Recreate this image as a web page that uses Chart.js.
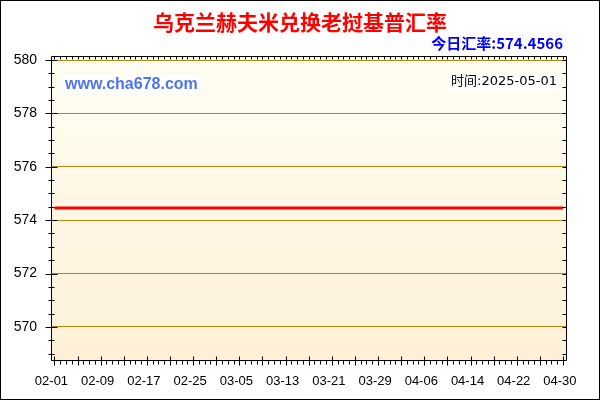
<!DOCTYPE html>
<html>
<head>
<meta charset="utf-8">
<script src="https://cdn.jsdelivr.net/npm/chart.js@4/dist/chart.umd.min.js"></script>
<style>
  html, body { margin: 0; padding: 0; background: #fff; }
  canvas { display: block; }
</style>
</head>
<body>
<canvas id="rateChart" width="600" height="400"></canvas>
<script>
const title = '乌克兰赫夫米兑换老挝基普汇率';
const todayRate = '574.4566';
const dateText = '2025-05-01';

const dates = [
  '02-01','02-02','02-03','02-04','02-05','02-06','02-07','02-08','02-09','02-10',
  '02-11','02-12','02-13','02-14','02-15','02-16','02-17','02-18','02-19','02-20',
  '02-21','02-22','02-23','02-24','02-25','02-26','02-27','02-28',
  '03-01','03-02','03-03','03-04','03-05','03-06','03-07','03-08','03-09','03-10',
  '03-11','03-12','03-13','03-14','03-15','03-16','03-17','03-18','03-19','03-20',
  '03-21','03-22','03-23','03-24','03-25','03-26','03-27','03-28','03-29','03-30','03-31',
  '04-01','04-02','04-03','04-04','04-05','04-06','04-07','04-08','04-09','04-10',
  '04-11','04-12','04-13','04-14','04-15','04-16','04-17','04-18','04-19','04-20',
  '04-21','04-22','04-23','04-24','04-25','04-26','04-27','04-28','04-29','04-30'
];

const rates = [
  574.4566,574.4566,574.4566,574.4566,574.4566,574.4566,574.4566,574.4566,574.4566,574.4566,
  574.4566,574.4566,574.4566,574.4566,574.4566,574.4566,574.4566,574.4566,574.4566,574.4566,
  574.4566,574.4566,574.4566,574.4566,574.4566,574.4566,574.4566,574.4566,
  574.4566,574.4566,574.4566,574.4566,574.4566,574.4566,574.4566,574.4566,574.4566,574.4566,
  574.4566,574.4566,574.4566,574.4566,574.4566,574.4566,574.4566,574.4566,574.4566,574.4566,
  574.4566,574.4566,574.4566,574.4566,574.4566,574.4566,574.4566,574.4566,574.4566,574.4566,574.4566,
  574.4566,574.4566,574.4566,574.4566,574.4566,574.4566,574.4566,574.4566,574.4566,574.4566,
  574.4566,574.4566,574.4566,574.4566,574.4566,574.4566,574.4566,574.4566,574.4566,574.4566,
  574.4566,574.4566,574.4566,574.4566,574.4566,574.4566,574.4566,574.4566,574.4566,574.4566
];

const yTicks = [570, 572, 574, 576, 578, 580];
const xTickLabels = ['02-01','02-09','02-17','02-25','03-05','03-13','03-21','03-29','04-06','04-14','04-22','04-30'];

// frame, tick marks and the text boxes
const decor = {
  id: 'decor',
  beforeDraw(chart) {
    const ctx = chart.ctx;
    const a = chart.chartArea;
    ctx.save();
    ctx.fillStyle = '#fff';
    ctx.fillRect(0, 0, chart.width, chart.height);
    const g = ctx.createLinearGradient(0, a.top, 0, a.bottom);
    g.addColorStop(0, '#fffef4');
    g.addColorStop(1, '#fdf0d6');
    ctx.fillStyle = g;
    ctx.fillRect(a.left, a.top, a.right - a.left, a.bottom - a.top);
    ctx.restore();
  },
  afterDraw(chart) {
    const ctx = chart.ctx;
    const a = chart.chartArea;
    const xs = chart.scales.x, ys = chart.scales.y;
    const L = Math.round(a.left) + 0.5, R = Math.round(a.right) - 0.5;
    const T = Math.round(a.top) + 0.5, B = Math.round(a.bottom) + 0.5;
    const line = (x1, y1, x2, y2) => { ctx.beginPath(); ctx.moveTo(x1, y1); ctx.lineTo(x2, y2); ctx.stroke(); };

    ctx.save();
    ctx.strokeStyle = '#000';
    ctx.lineWidth = 1;
    line(L, T, L, B);
    line(R, T, R, B);
    line(L, T, R, T);
    line(L, B, R, B);

    for (let v = 569; v <= 580; v += 0.5) {
      const py = Math.round(ys.getPixelForValue(v)) + 0.5;
      if (yTicks.includes(v)) line(L - 6, py, L + 6, py);
      else line(L - 3, py, L + 3, py);
      line(R - 4, py, R, py);
    }
    dates.forEach((d, i) => {
      const px = Math.round(xs.getPixelForValue(i)) + 0.5;
      if (i % 4 === 0) line(px, B - 4, px, B + 5);
      else line(px, B, px, B + 4);
      line(px, T, px, T + 3);
    });

    // title
    ctx.textAlign = 'center';
    ctx.textBaseline = 'middle';
    ctx.fillStyle = '#ff0000';
    ctx.font = 'bold 21px "Noto Sans CJK SC", sans-serif';
    ctx.fillText(title, 300, 22);

    ctx.textAlign = 'right';
    ctx.fillStyle = '#0000ff';
    ctx.font = 'bold 15px "Noto Sans CJK SC", sans-serif';
    ctx.fillText('今日汇率:' + todayRate, 563, 43);

    // site watermark
    ctx.fillStyle = 'rgba(255,255,255,0.85)';
    ctx.fillRect(62, 76, 139, 19);
    ctx.textAlign = 'left';
    ctx.fillStyle = '#4f74f0';
    ctx.font = 'bold 16px "Liberation Sans", Arial, sans-serif';
    ctx.fillText('www.cha678.com', 65, 85);

    // date box
    ctx.font = '13px "DejaVu Sans", "Noto Sans CJK SC", sans-serif';
    const tw = ctx.measureText('时间:' + dateText).width;
    ctx.fillStyle = 'rgba(255,255,255,0.85)';
    ctx.fillRect(557 - tw - 3, 73, tw + 6, 18);
    ctx.textAlign = 'right';
    ctx.fillStyle = '#000';
    ctx.fillText('时间:' + dateText, 557, 82);

    // outer frame
    ctx.strokeRect(0.5, 0.5, chart.width - 1, chart.height - 1);
    ctx.restore();
  }
};

new Chart(document.getElementById('rateChart'), {
  type: 'line',
  data: {
    datasets: [{
      data: rates.map((v, i) => ({ x: i, y: v })),
      borderColor: '#ff0000',
      borderWidth: 3,
      pointRadius: 0,
      tension: 0,
      fill: false
    }]
  },
  options: {
    responsive: false,
    animation: false,
    devicePixelRatio: 1,
    layout: { padding: { top: 56, right: 33, left: 0, bottom: 0 } },
    plugins: { legend: { display: false }, tooltip: { enabled: false } },
    scales: {
      x: {
        type: 'linear',
        min: -0.6,
        max: 88.7,
        afterFit: s => { s.height = 40; },
        afterBuildTicks: s => {
          s.ticks = xTickLabels.map(l => ({ value: dates.indexOf(l) }));
        },
        grid: { display: false, drawTicks: false },
        border: { display: false },
        ticks: {
          autoSkip: false,
          maxRotation: 0,
          padding: 14,
          labelOffset: -3,
          color: '#000',
          font: { family: '"Liberation Sans", Arial', size: 13 },
          callback: v => dates[v] ?? ''
        }
      },
      y: {
        min: 568.76,
        max: 580.15,
        afterFit: s => { s.width = 51; },
        afterBuildTicks: s => {
          s.ticks = yTicks.map(v => ({ value: v }));
        },
        grid: { color: '#b8860b', lineWidth: 1, drawTicks: false },
        border: { display: false },
        ticks: {
          padding: 14,
          color: '#000',
          font: { family: '"Liberation Sans", Arial', size: 14 },
          callback: v => String(v)
        }
      }
    }
  },
  plugins: [decor]
});
</script>
</body>
</html>
